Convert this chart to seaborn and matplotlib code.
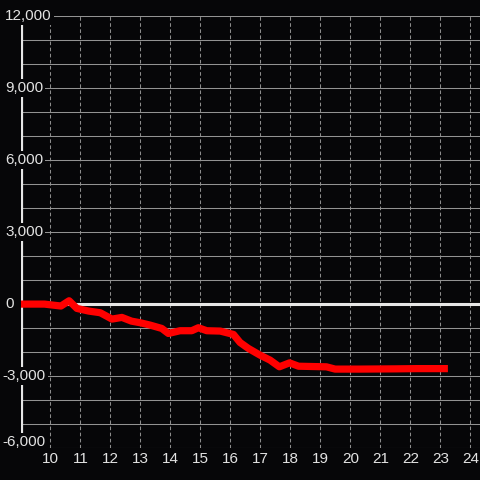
import matplotlib
matplotlib.use('Agg')
import matplotlib.pyplot as plt
import matplotlib.transforms as mtransforms
import seaborn as sns
import pandas as pd
import numpy as np

# data
hours = [9.0, 9.8, 10.0, 10.35, 10.62, 10.88, 11.27, 11.66, 12.05, 12.38, 12.7,
         13.0, 13.32, 13.71, 13.93, 14.32, 14.71, 14.93, 15.21, 15.66, 16.1,
         16.32, 16.6, 16.99, 17.32, 17.63, 17.97, 18.27, 19.2, 19.49, 20.3,
         21.5, 22.2, 23.25]
values = [0, 0, -30, -80, 140, -180, -290, -360, -625, -555, -710,
          -780, -875, -1015, -1225, -1110, -1110, -985, -1110, -1125, -1265,
          -1600, -1850, -2130, -2335, -2615, -2450, -2590, -2615, -2710, -2710,
          -2700, -2690, -2690]
y_labels = [-6000, -3000, 0, 3000, 6000, 9000, 12000]
x_ticks = list(range(10, 25))

bg = '#060608'
fg = '#e2e2e2'

sns.set_style('dark')
plt.rcParams['font.family'] = ['Liberation Sans', 'DejaVu Sans']
plt.rcParams['lines.scale_dashes'] = False

df = pd.DataFrame({'hour': hours, 'value': values})

fig = plt.figure(figsize=(4.8, 4.8), dpi=100, facecolor=bg)
ax = fig.add_axes([20.5 / 480, 32 / 480, 459.5 / 480, 431.7 / 480])
ax.set_facecolor(bg)

ax.set_xlim(9.0, 24.32)
ax.set_ylim(-6000, 12000)

# grid
ax.set_yticks(np.arange(-6000, 12001, 1000))
ax.set_xticks(x_ticks)
ax.grid(axis='y', color='#929292', lw=0.75, linestyle='-', zorder=0)
ax.grid(axis='x', color='#8c8c8c', lw=0.75, linestyle=(0, (2.6, 1.8)), zorder=0)
ax.set_axisbelow(True)
for s in ax.spines.values():
    s.set_visible(False)
ax.tick_params(axis='y', length=0, labelleft=False)
ax.tick_params(axis='x', length=0, colors=fg, labelsize=11, pad=3)

# axis line and zero line
ax.axvline(9.0, color='#e6e6e6', lw=2.3, zorder=2)
ax.axhline(0, color='#e6e6e6', lw=2.2, zorder=2)

sns.lineplot(data=df, x='hour', y='value', ax=ax, color='#ff0000', lw=5.2,
             zorder=3, solid_capstyle='butt', solid_joinstyle='round')
ax.set_xlabel('')
ax.set_ylabel('')

# y labels with dark boxes over the axis line
trans = mtransforms.blended_transform_factory(fig.transFigure, ax.transData)
for v in y_labels:
    x0 = 2.5 / 480 if v < 0 else 5 / 480
    t = trans
    if v == -6000:
        t = trans + mtransforms.ScaledTranslation(0, 0.055, fig.dpi_scale_trans)
    ax.text(x0, v, f'{v:,}', transform=t, ha='left', va='center',
            color=fg, fontsize=11, zorder=5, clip_on=False,
            bbox=dict(facecolor=bg, edgecolor='none', pad=1.5))

fig.savefig('out.png', dpi=100, facecolor=bg)
